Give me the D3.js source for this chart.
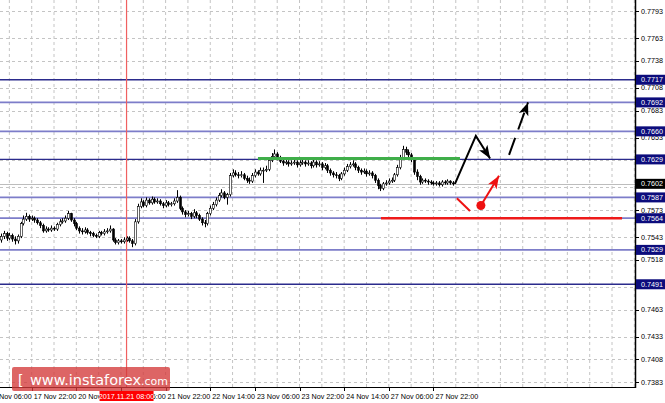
<!DOCTYPE html>
<html><head><meta charset="utf-8">
<script src="https://cdn.jsdelivr.net/npm/d3@7"></script>
<style>html,body{margin:0;padding:0;background:#fff;}svg{display:block;}</style>
</head><body>
<svg id="chart" width="665" height="403"></svg>
<script>
// ---------- DATA ----------
const firstOpen = 0.7540;
const closes = [
0.7544,0.7547,0.7542,0.7545,0.7541,0.7539,0.7544,0.7558,0.7563,0.7566,
0.7563,0.7564,0.7562,0.7559,0.7556,0.7550,0.7552,0.7551,0.7553,0.7552,
0.7557,0.7560,0.7561,0.7564,0.7569,0.7562,0.7558,0.7553,0.7550,0.7549,
0.7551,0.7548,0.7547,0.7545,0.7544,0.7548,0.7547,0.7549,0.7550,0.7552,
0.7540,0.7537,0.7539,0.7538,0.7540,0.7542,0.7539,0.7536,0.7560,0.7577,
0.7582,0.7578,0.7584,0.7581,0.7585,0.7582,0.7583,0.7580,0.7578,0.7581,
0.7579,0.7580,0.7583,0.7587,0.7575,0.7571,0.7568,0.7569,0.7566,0.7570,
0.7567,0.7563,0.7559,0.7558,0.7569,0.7575,0.7579,0.7584,0.7589,0.7592,
0.7587,0.7590,0.7611,0.7614,0.7612,0.7611,0.7612,0.7608,0.7606,0.7605,
0.7611,0.7615,0.7613,0.7617,0.7617,0.7618,0.7628,0.7632,0.7635,0.7631,
0.7627,0.7625,0.7626,0.7624,0.7625,0.7626,0.7623,0.7625,0.7626,0.7624,
0.7625,0.7622,0.7626,0.7623,0.7624,0.7620,0.7622,0.7617,0.7614,0.7612,
0.7611,0.7608,0.7613,0.7617,0.7621,0.7623,0.7624,0.7620,0.7617,0.7615,
0.7616,0.7613,0.7614,0.7611,0.7606,0.7600,0.7597,0.7602,0.7603,0.7605,
0.7606,0.7612,0.7620,0.7631,0.7640,0.7637,0.7634,0.7629,0.7615,0.7610,
0.7604,0.7606,0.7605,0.7604,0.7603,0.7602,0.7603,0.7601,0.7604,0.7603,
0.7605,0.7603,0.7602];
const highs = [
0.7547,0.7550,0.7549,0.7548,0.7547,0.7544,0.7546,0.7560,0.7567,0.7570,
0.7568,0.7567,0.7566,0.7564,0.7561,0.7558,0.7555,0.7554,0.7556,0.7555,
0.7559,0.7563,0.7564,0.7567,0.7572,0.7570,0.7564,0.7560,0.7555,0.7553,
0.7554,0.7553,0.7550,0.7549,0.7547,0.7550,0.7550,0.7552,0.7553,0.7556,
0.7553,0.7542,0.7541,0.7541,0.7543,0.7544,0.7544,0.7541,0.7563,0.7580,
0.7586,0.7584,0.7587,0.7586,0.7588,0.7587,0.7586,0.7585,0.7582,0.7584,
0.7583,0.7582,0.7586,0.7595,0.7589,0.7577,0.7573,0.7572,0.7571,0.7574,
0.7572,0.7569,0.7565,0.7562,0.7571,0.7578,0.7582,0.7587,0.7592,0.7596,
0.7594,0.7592,0.7614,0.7618,0.7617,0.7615,0.7616,0.7614,0.7611,0.7609,
0.7614,0.7618,0.7617,0.7620,0.7620,0.7622,0.7631,0.7636,0.7640,0.7637,
0.7633,0.7629,0.7629,0.7628,0.7628,0.7629,0.7628,0.7628,0.7629,0.7628,
0.7628,0.7627,0.7629,0.7628,0.7627,0.7626,0.7625,0.7624,0.7619,0.7616,
0.7615,0.7613,0.7615,0.7620,0.7624,0.7626,0.7628,0.7626,0.7622,0.7619,
0.7619,0.7618,0.7617,0.7616,0.7613,0.7608,0.7602,0.7604,0.7606,0.7608,
0.7609,0.7614,0.7623,0.7634,0.7644,0.7643,0.7640,0.7636,0.7631,0.7618,
0.7612,0.7608,0.7608,0.7607,0.7606,0.7605,0.7605,0.7605,0.7606,0.7606,
0.7607,0.7606,0.7605];
const lows = [
0.7537,0.7541,0.7539,0.7540,0.7538,0.7535,0.7536,0.7542,0.7556,0.7561,
0.7560,0.7561,0.7559,0.7557,0.7553,0.7548,0.7548,0.7549,0.7549,0.7550,
0.7550,0.7555,0.7558,0.7559,0.7562,0.7560,0.7555,0.7551,0.7547,0.7546,
0.7547,0.7546,0.7544,0.7543,0.7542,0.7542,0.7545,0.7545,0.7547,0.7548,
0.7538,0.7535,0.7535,0.7536,0.7536,0.7538,0.7537,0.7532,0.7534,0.7558,
0.7575,0.7576,0.7576,0.7579,0.7579,0.7580,0.7580,0.7578,0.7575,0.7576,
0.7577,0.7577,0.7578,0.7581,0.7573,0.7568,0.7565,0.7566,0.7563,0.7564,
0.7564,0.7561,0.7556,0.7554,0.7556,0.7567,0.7573,0.7577,0.7582,0.7587,
0.7585,0.7579,0.7588,0.7609,0.7610,0.7608,0.7609,0.7606,0.7603,0.7602,
0.7603,0.7609,0.7611,0.7611,0.7603,0.7615,0.7616,0.7626,0.7630,0.7628,
0.7625,0.7622,0.7623,0.7621,0.7622,0.7623,0.7620,0.7621,0.7623,0.7621,
0.7622,0.7619,0.7620,0.7620,0.7621,0.7617,0.7618,0.7614,0.7611,0.7609,
0.7608,0.7605,0.7606,0.7611,0.7615,0.7619,0.7621,0.7617,0.7614,0.7612,
0.7613,0.7610,0.7611,0.7608,0.7603,0.7596,0.7594,0.7595,0.7600,0.7601,
0.7603,0.7604,0.7610,0.7618,0.7629,0.7634,0.7631,0.7626,0.7612,0.7606,
0.7601,0.7602,0.7603,0.7601,0.7601,0.7600,0.7600,0.7599,0.7599,0.7601,
0.7601,0.7601,0.7600];

// price axis
const gridValues = [0.7793,0.7763,0.7738,0.7708,0.7683,0.7653,0.7628,0.7598,0.7573,0.7543,0.7518,0.7488,0.7463,0.7433,0.7408,0.7383];
const tickLabels = ["0.7793","0.7763","0.7738","0.7708","0.7683","0.7653","0.7573","0.7543","0.7518","0.7463","0.7433","0.7408","0.7383"];
const levels = [0.7717,0.7692,0.7660,0.7629,0.7587,0.7564,0.7529,0.7491];
const levelLabels = ["0.7717","0.7692","0.7660","0.7629","0.7587","0.7564","0.7529","0.7491"];
const currentPrice = 0.7602;

// time axis (bar index of each label)
const timeTickBars = [-5,11,27,43,59,75,91,107,123,139,155];
const timeTickLabels = ["16 Nov 06:00","17 Nov 22:00","20 Nov 14:00","21 Nov 06:00","21 Nov 22:00","22 Nov 14:00","23 Nov 06:00","23 Nov 22:00","24 Nov 14:00","27 Nov 06:00","27 Nov 22:00"];
const markerBar = 45;
const markerLabel = "2017.11.21 08:00";

// annotations (bar index, price)
const greenLine = [[92.1,0.7630],[164.5,0.7630]];
const redLine = [[136.2,0.7564],[222.6,0.7564]];
const blackPath = [[162.7,0.7602],[170.2,0.7655],[175.3,0.7630]];
const blackDashed = [[182.1,0.7634],[188.9,0.7692]];
const redShort = [[163.4,0.7586],[168.1,0.7572]];
const redDot = [172.0,0.7578];
const redArrow = [[172.0,0.7578],[178.5,0.7611]];

// ---------- DRAW ----------
const W = 665, H = 403;
const plotR = 635, plotB = 387;
const svg = d3.select("#chart");
const font = "'Liberation Sans', Arial, sans-serif";

const x = d3.scaleLinear().domain([0, 227]).range([1, 1 + 227*2.79]);
const y = d3.scaleLinear().domain([0.7383, 0.7793]).range([382, 11]);

svg.append("rect").attr("width", W).attr("height", H).attr("fill", "#fff");

const defs = svg.append("defs");
defs.append("clipPath").attr("id","clip").append("rect").attr("x",0).attr("y",0).attr("width",plotR).attr("height",plotB);
function marker(id, color, len, wid){
  defs.append("marker").attr("id", id).attr("viewBox", `0 0 ${len} ${wid}`)
    .attr("refX", len).attr("refY", wid/2).attr("markerUnits","userSpaceOnUse")
    .attr("markerWidth", len).attr("markerHeight", wid).attr("orient","auto")
    .append("path").attr("d", `M0,0 L${len},${wid/2} L0,${wid} L${len*0.25},${wid/2} Z`).attr("fill", color);
}
marker("ahBlack", "#000", 13, 10);
marker("ahRed", "#ee1111", 13, 10);

const g = svg.append("g").attr("clip-path","url(#clip)");

// grid
const vGridBars = d3.range(-5, 230, 8);
g.selectAll("line.vg").data(vGridBars).enter().append("line")
  .attr("x1", d=>x(d)).attr("x2", d=>x(d)).attr("y1",0).attr("y2",plotB)
  .attr("stroke","#c4c4c4").attr("stroke-width",1).attr("stroke-dasharray","3,3");
g.selectAll("line.hg").data(gridValues).enter().append("line")
  .attr("x1",0).attr("x2",plotR).attr("y1", d=>Math.round(y(d))+0.5).attr("y2", d=>Math.round(y(d))+0.5)
  .attr("stroke","#c4c4c4").attr("stroke-width",1).attr("stroke-dasharray","3,3");

// current price line
g.append("line").attr("x1",0).attr("x2",plotR).attr("y1",Math.round(y(currentPrice))+0.5).attr("y2",Math.round(y(currentPrice))+0.5)
  .attr("stroke","#bdbdbd").attr("stroke-width",1);

// levels
const darkLevels = new Set([0.7717,0.7629,0.7491]);
g.selectAll("line.lv").data(levels).enter().append("line")
  .attr("x1",0).attr("x2",plotR).attr("y1", d=>y(d)).attr("y2", d=>y(d))
  .attr("stroke", d=>darkLevels.has(d) ? "#2b2b8c" : "#7d7dc9")
  .attr("stroke-width", d=>darkLevels.has(d) ? 1.3 : 1.8);

// vertical red marker line
g.append("line").attr("x1",x(markerBar)).attr("x2",x(markerBar)).attr("y1",0).attr("y2",plotB)
  .attr("stroke","#f06060").attr("stroke-width",1.2);

// candles
const bars = closes.map((c,i)=>({i, o: i===0 ? firstOpen : closes[i-1], c, h: highs[i], l: lows[i]}));
g.selectAll("line.wick").data(bars).enter().append("line")
  .attr("x1", d=>Math.round(x(d.i))+0.5).attr("x2", d=>Math.round(x(d.i))+0.5)
  .attr("y1", d=>y(d.h)).attr("y2", d=>y(d.l)).attr("stroke","#000").attr("stroke-width",1);
g.selectAll("rect.body").data(bars).enter().append("rect")
  .attr("x", d=>Math.round(x(d.i))-0.5).attr("width",2)
  .attr("y", d=>y(Math.max(d.o,d.c))).attr("height", d=>Math.max(0.8, Math.abs(y(d.o)-y(d.c))))
  .attr("fill", d=> d.c>=d.o ? "#fff" : "#000").attr("stroke","#000").attr("stroke-width",0.6);

// annotations
const line = d3.line().x(d=>x(d[0])).y(d=>y(d[1]));
g.append("path").attr("d", line(greenLine)).attr("stroke","#3fae49").attr("stroke-width",3).attr("fill","none");
g.append("path").attr("d", line(redLine)).attr("stroke","#ee1a1a").attr("stroke-width",2.5).attr("fill","none");
g.append("path").attr("d", line(blackPath)).attr("stroke","#000").attr("stroke-width",2).attr("fill","none")
  .attr("stroke-linejoin","miter").attr("marker-end","url(#ahBlack)");
g.append("path").attr("d", line(blackDashed)).attr("stroke","#000").attr("stroke-width",2).attr("fill","none")
  .attr("stroke-dasharray","18,9").attr("marker-end","url(#ahBlack)");
g.append("path").attr("d", line(redShort)).attr("stroke","#ee1111").attr("stroke-width",2).attr("fill","none");
g.append("path").attr("d", line(redArrow)).attr("stroke","#ee1111").attr("stroke-width",2).attr("fill","none")
  .attr("marker-end","url(#ahRed)");
g.append("circle").attr("cx", x(redDot[0])).attr("cy", y(redDot[1])).attr("r",4.5).attr("fill","#ee1111");

// right axis
svg.append("line").attr("x1",plotR+0.5).attr("x2",plotR+0.5).attr("y1",0).attr("y2",plotB+1).attr("stroke","#000").attr("stroke-width",1.5);
const labelVals = tickLabels.map(Number);
svg.selectAll("line.rt").data(labelVals).enter().append("line")
  .attr("x1",plotR).attr("x2",plotR+4).attr("y1",d=>Math.round(y(d))+0.5).attr("y2",d=>Math.round(y(d))+0.5).attr("stroke","#000");
svg.selectAll("text.rt").data(tickLabels).enter().append("text")
  .attr("x", plotR+6).attr("y", d=>y(+d)+2.5).attr("font-family",font).attr("font-size",7.2).attr("fill","#000").text(d=>d);

const lvl = svg.selectAll("g.lvl").data(levelLabels).enter().append("g");
lvl.append("rect").attr("x",plotR+1).attr("y",d=>y(+d)-5).attr("width",W-plotR-1).attr("height",10)
  .attr("fill","#0c0c7c");
lvl.append("text").attr("x",plotR+6).attr("y",d=>y(+d)+2.5).attr("font-family",font).attr("font-size",7.2).attr("fill","#fff").text(d=>d);
const cur = svg.append("g");
cur.append("rect").attr("x",plotR+1).attr("y",y(currentPrice)-5).attr("width",W-plotR-1).attr("height",10).attr("fill","#000");
cur.append("text").attr("x",plotR+6).attr("y",y(currentPrice)+2.5).attr("font-family",font).attr("font-size",7.2).attr("fill","#fff").text(currentPrice.toFixed(4));

// bottom axis line
svg.append("line").attr("x1",0).attr("x2",plotR+1).attr("y1",plotB+0.5).attr("y2",plotB+0.5).attr("stroke","#000").attr("stroke-width",1.2);
svg.selectAll("line.bt").data(timeTickBars).enter().append("line")
  .attr("x1",d=>Math.round(x(d))+0.5).attr("x2",d=>Math.round(x(d))+0.5).attr("y1",plotB).attr("y2",plotB+4).attr("stroke","#000");

// logo
const logo = svg.append("g");
logo.append("rect").attr("x",12).attr("y",367).attr("width",158).attr("height",24).attr("rx",2)
  .attr("fill","#d43a3a").attr("fill-opacity",0.78);
const lt = logo.append("text").attr("x",18).attr("y",385).attr("font-family","'DejaVu Sans', sans-serif").attr("fill","#fff");
lt.append("tspan").attr("font-size",14).text("[ ");
lt.append("tspan").attr("font-size",14.5).attr("dx",2).text("www.instaforex");
lt.append("tspan").attr("font-size",11).text(".com");
lt.append("tspan").attr("font-size",14).attr("dx",3).text("]");

// time labels
svg.selectAll("text.bt").data(timeTickBars).enter().append("text")
  .attr("x", d=>x(d)+2).attr("y", 399).attr("font-family",font).attr("font-size",7.2).attr("fill","#000")
  .text((d,i)=>timeTickLabels[i]);
const ml = svg.append("g");
ml.append("rect").attr("x",x(markerBar)-27).attr("y",391).attr("width",54).attr("height",10).attr("fill","#ff0000");
ml.append("text").attr("x",x(markerBar)).attr("y",399).attr("text-anchor","middle").attr("font-family",font).attr("font-size",7.2).attr("fill","#fff").text(markerLabel);
</script>
</body></html>
